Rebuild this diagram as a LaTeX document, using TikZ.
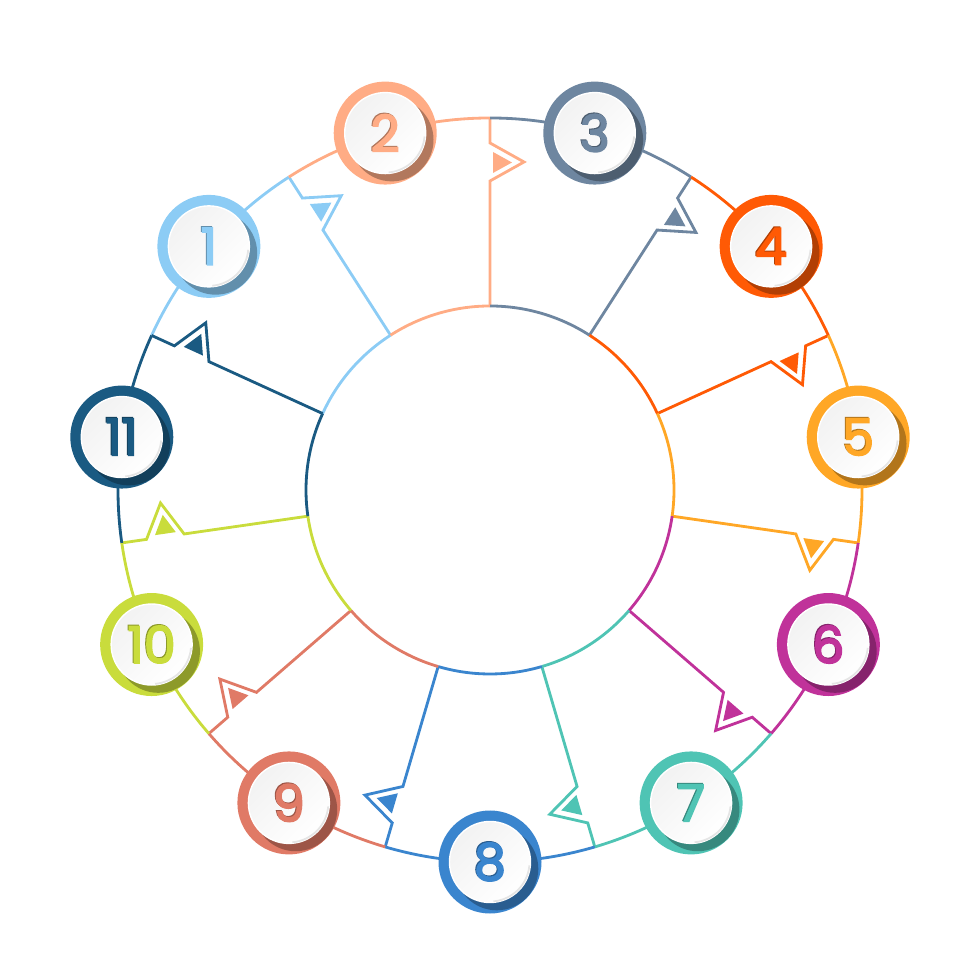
\documentclass[tikz,border=0pt]{standalone}
\usepackage{fontspec}
\newfontfamily\digitfont{Poppins}[FakeBold=3]
\usetikzlibrary{calc}
\definecolor{sky}{HTML}{8CCCF5}
\definecolor{peach}{HTML}{FFAC85}
\definecolor{slate}{HTML}{6E86A0}
\definecolor{blaze}{HTML}{FF5A05}
\definecolor{amber}{HTML}{FFA726}
\definecolor{plum}{HTML}{C0329A}
\definecolor{teal2}{HTML}{4FC4B4}
\definecolor{azure}{HTML}{3A85CE}
\definecolor{coral}{HTML}{E07A66}
\definecolor{lime2}{HTML}{C9DC3C}
\definecolor{navy2}{HTML}{1A5A82}
\tikzset{
  wire/.style={line width=0.8pt,line join=miter},
  ring/.style={circle,inner sep=0pt,minimum size=1.03cm},
  disc/.style={circle,inner sep=0pt,minimum size=0.81cm,draw=white,line width=0.4pt,
    top color=black!5,bottom color=white,shading angle=45},
  digit/.style={font=\digitfont\fontsize{14.5}{14.5}\selectfont}
}
% arc, arc of the hub, spoke with its notch, and the numbered badge
\newcommand{\sector}[3]{%
\draw[wire,#2] (#1+32.727:3.72) arc[start angle=#1+32.727,end angle=#1,radius=3.72];
\draw[wire,#2] (#1+32.727:1.84) arc[start angle=#1+32.727,end angle=#1,radius=1.84];
\begin{scope}[rotate=#1]
\draw[wire,#2] (3.72,0)--(3.47,0)--(3.28,-0.34)--(3.09,0)--(1.84,0);
\fill[#2] (3.38,-0.03)--(3.17,-0.03)--(3.275,-0.22)--cycle;
\end{scope}
\node[ring,fill=#2] (badge#3) at (#1+16.364:3.72){};
\fill[#2!70!black] ($(badge#3)+(0.067,-0.067)$) circle (0.416);
\node[disc] (disc#3) at (badge#3){};
\draw[black!10,line width=0.5pt] ($(badge#3)+(-5:0.395)$) arc[start angle=-5,end angle=-85,radius=0.395];
\node[digit,#2!70!black] (shade#3) at ($(badge#3)+(-0.01,0.01)$){#3};
\node[digit,#2] (num#3) at (badge#3){#3};
}
\begin{document}
\begin{tikzpicture}
\useasboundingbox (-4.9,-4.9) rectangle (4.9,4.9);
\sector{122.727}{sky}{1}
\sector{90}{peach}{2}
\sector{57.273}{slate}{3}
\sector{24.545}{blaze}{4}
\sector{-8.182}{amber}{5}
\sector{-40.909}{plum}{6}
\sector{-73.636}{teal2}{7}
\sector{-106.364}{azure}{8}
\sector{-139.091}{coral}{9}
\sector{-171.818}{lime2}{10}
\sector{155.455}{navy2}{11}
\end{tikzpicture}
\end{document}
